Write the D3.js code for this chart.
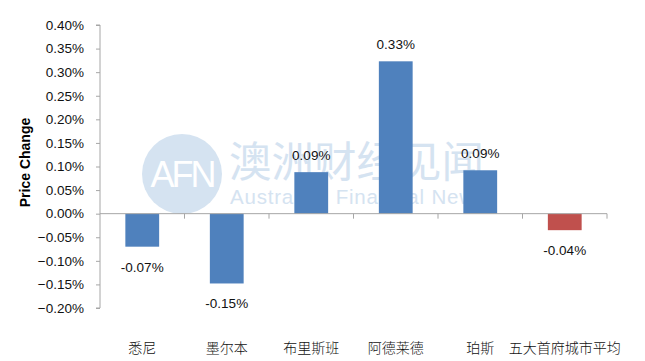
<!DOCTYPE html>
<html><head><meta charset="utf-8">
<script src="https://cdn.jsdelivr.net/npm/d3@7"></script>
<style>body{margin:0;background:#fff}svg{display:block}</style>
</head><body>
<svg id="c" width="645" height="361"></svg>
<script>
const categories = ["悉尼","墨尔本","布里斯班","阿德莱德","珀斯","五大首府城市平均"];
const values = [-0.070, -0.148, 0.088, 0.323, 0.092, -0.035];
const valueLabels = ["-0.07%","-0.15%","0.09%","0.33%","0.09%","-0.04%"];
const colors = ["#4f81bd","#4f81bd","#4f81bd","#4f81bd","#4f81bd","#c0504d"];
const yTicks = [-0.20,-0.15,-0.10,-0.05,0,0.05,0.10,0.15,0.20,0.25,0.30,0.35,0.40];
const yTitle = "Price Change";

(function(){
const svg = d3.select("#c");
const mL = 100, mR = 607, mT = 25, mB = 308;
const font = "'Liberation Sans', Arial, sans-serif";
const cjk = "'Noto Sans CJK SC', sans-serif";
const axisColor = "#a6a6a6";

const y = d3.scaleLinear().domain([-0.20, 0.40]).range([mB, mT]);
const x = d3.scaleBand().domain(categories).range([mL, mR]).paddingInner(0.6).paddingOuter(0.3);

// watermark
const wm = svg.append("g");
wm.append("circle").attr("cx", 182).attr("cy", 174).attr("r", 40).attr("fill", "#d5e3f1");
wm.append("text").attr("x", 182).attr("y", 187).attr("text-anchor", "middle")
  .attr("font-family", font).attr("font-size", 36).attr("fill", "#fff").attr("letter-spacing", -3).text("AFN");
wm.append("text").attr("x", 229).attr("y", 177).attr("font-family", cjk).attr("font-size", 42.5)
  .attr("fill", "#d5e3f1").text("澳洲财经见闻");
wm.append("text").attr("x", 230).attr("y", 204).attr("font-family", font).attr("font-size", 20.5)
  .attr("fill", "#d5e3f1").attr("letter-spacing", 0.8).text("Australian Financial News");

// y axis
const yAxis = d3.axisLeft(y).tickValues(yTicks).tickSize(4).tickPadding(12)
  .tickFormat(d => d3.format(".2f")(d) + "%");
const gy = svg.append("g").attr("transform", `translate(${mL},0)`).call(yAxis);
gy.select(".domain").attr("stroke", axisColor).attr("d", `M-4,${mT}H0V${mB}H-4`);
gy.selectAll(".tick line").attr("stroke", axisColor);
gy.selectAll(".tick text").attr("font-family", font).attr("font-size", 13.5).attr("fill", "#111");

// y title
svg.append("text").attr("transform", `translate(30,${(mT+mB)/2 - 4}) rotate(-90)`)
  .attr("text-anchor", "middle").attr("font-family", font).attr("font-weight", "bold")
  .attr("font-size", 14).attr("fill", "#000").text(yTitle);

// bars
svg.append("g").selectAll("rect").data(categories).join("rect")
  .attr("x", d => x(d)).attr("width", x.bandwidth())
  .attr("y", (d,i) => y(Math.max(0, values[i])))
  .attr("height", (d,i) => Math.abs(y(values[i]) - y(0)))
  .attr("fill", (d,i) => colors[i]);

// x axis at zero
const gx = svg.append("g");
gx.append("line").attr("x1", mL).attr("x2", mR).attr("y1", y(0)).attr("y2", y(0)).attr("stroke", axisColor);
const bounds = categories.map((d,i) => mL + (mR-mL)*(i+1)/categories.length);
gx.selectAll("line.t").data(bounds).join("line").attr("class","t")
  .attr("x1", d => d).attr("x2", d => d).attr("y1", y(0)).attr("y2", y(0)+5).attr("stroke", axisColor);

// value labels
svg.append("g").selectAll("text").data(categories).join("text")
  .attr("x", d => x(d) + x.bandwidth()/2)
  .attr("y", (d,i) => values[i] >= 0 ? y(values[i]) - 12 : y(values[i]) + 25)
  .attr("text-anchor", "middle").attr("font-family", font).attr("font-size", 13.5).attr("fill", "#111")
  .text((d,i) => valueLabels[i]);

// category labels
svg.append("g").selectAll("text").data(categories).join("text")
  .attr("x", d => x(d) + x.bandwidth()/2).attr("y", 353)
  .attr("text-anchor", "middle").attr("font-family", cjk).attr("font-size", 14)
  .attr("font-weight", 300).attr("fill", "#111")
  .text(d => d);
})();
</script>
</body></html>
